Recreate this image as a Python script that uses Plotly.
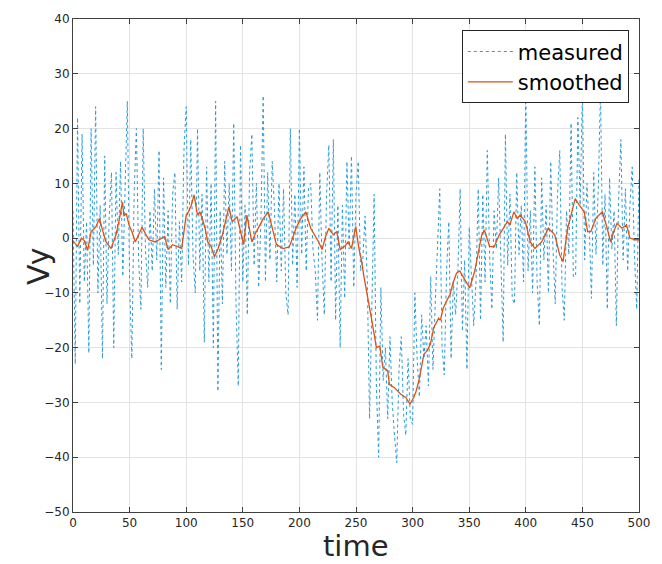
import plotly.graph_objects as go

# measured signal, sampled every 2 time units (0..500)
meas_t = list(range(0, 501, 2))
meas_v = [
    5, -23, 22, -12, 19,
    -8, 3, -21, 20, -5,
    24, -10, 6, -22, 15,
    -12, 4, 12, -20, 12,
    -3, 14, -7, 10, 25,
    -8, -22, 8, 20, -4,
    -13, 20, -2, -9, 5,
    -6, 9, -4, 16, -24,
    11, -9, 5, -12, 8,
    12, -13, 3, -8, 16,
    24, -5, 18, -3, -10,
    20, -6, 8, -19, 13,
    -8, 10, -20, 25, -28,
    5, -12, 14, -3, 10,
    -6, 21, -12, -27, 17,
    -8, 6, -14, 12, 19,
    -5, 10, -9, 3, 26,
    -8, 12, -4, 14, 5,
    -8, 10, -6, 9, -10,
    -14, 20, -5, 8, -9,
    20, -3, 13, -6, 9,
    10, -2, -6, -15, 12,
    -4, -14, 8, 17, -8,
    18, -15, 6, -20, 6,
    -11, 14, -2, 15, -9,
    8, 14, -6, -4, 4,
    -8, -33, -14, 8, -27,
    -40, -9, -26, -20, -33,
    -18, -30, -36, -41, -24,
    -18, -32, -36, -22, -33,
    -34, -10, -22, -29, -14,
    -22, -16, -27, -7, -24,
    -12, 0, 9, -20, -25,
    -6, 3, -22, -8, -14,
    -6, 9, -17, -4, -24,
    2, -6, -16, -8, 9,
    -15, 8, -8, 16, -3,
    -13, 5, -2, 11, -6,
    -19, 19, -5, 8, -11,
    -12, 12, -3, 6, -8,
    27, -6, 5, -10, 13,
    -8, -16, 11, -4, 6,
    -10, 14, -2, -12, 8,
    16, -9, -15, 5, -3,
    21, -7, -7, 22, 6,
    27, -4, 10, 2, -11,
    12, -3, 9, 27, -5,
    8, -13, 11, -2, 5,
    -16, 7, 18, -4, 9,
    -6, 6, 13, -3, -13,
    11,
]

smooth_t = [0, 4, 7.5, 10, 13, 16, 20, 23.4, 26, 29, 33.6, 38, 41, 43.7, 45, 47, 49.5, 52, 55, 58,
            61, 64, 67, 72.6, 77, 81, 84, 88, 93, 96, 100, 102, 104.5, 107, 110, 112, 114.6, 117, 119, 122,
            125, 128, 132, 135, 137.7, 140.6, 145, 148, 150.7, 153.6, 158, 161, 163.8, 168, 172.5, 175.3, 179.7, 185.5, 191, 194,
            197, 201, 205.7, 210, 214, 217, 220, 223, 226, 230, 233, 236, 240, 243, 246, 249.7, 252.6, 255, 257, 259,
            261, 263.6, 266, 268, 271, 273.7, 278, 279.5, 283.9, 287, 289.6, 294, 297.7, 301, 303, 305.6, 308, 310, 313, 315.7,
            318.6, 321, 323, 324.5, 327, 330, 333, 336, 338.8, 341.7, 346, 350.4, 354.8, 358, 361, 363.4, 368, 372, 376.5, 380.8,
            383.7, 386, 389.5, 392.4, 395, 399.6, 404, 408, 411, 414, 417, 419.9, 425.6, 430, 432.9, 435, 437, 440, 443.6, 447.3,
            451.6, 454.6, 457.5, 461.8, 464.7, 467.6, 471.9, 474.8, 477.7, 480.6, 485, 489, 492, 496.5, 500]
smooth_v = [-0.5, -1.5, 0, -0.5, -2.2, 1.2, 2, 3.6, 1.5, -0.6, -1.9, 0.6, 3.5, 6.6, 4, 4.5, 2.4, 1.2, -0.7, 0.8,
            2, 0.8, -0.3, -0.7, -0.2, 0.3, -2.1, -1.2, -1.6, -1.9, 4.2, 4.8, 6, 7.9, 4.2, 4.8, 3.3, 1.5, -0.7, -1.5,
            -3.4, -2, 0.6, 3, 5.7, 3, 3.9, 1.2, -1.2, 4.2, -0.7, 0.8, 1.8, 3.5, 4.8, 2.4, -1.2, -1.9, -1.6, 0,
            1.8, 3.5, 4.8, 1.8, 0.5, -0.7, -2.1, 0.2, 1.8, 0.6, 1.2, -2.1, -1.5, -0.7, -1.9, 2.1, -1.9, -4.3, -7, -9.1,
            -11.5, -14.6, -17.5, -20, -19.7, -23.6, -24.2, -26.7, -27.3, -28, -28.5, -29.1, -30.3, -29.1, -28, -26, -23.5, -21.2, -20.5, -19.4,
            -16.4, -15.5, -14.6, -15, -12.8, -11.5, -10.3, -8, -6.4, -6, -7.6, -9.1, -6.1, -2.5, 0.5, 1.5, -1.5, -1.6, 0.6, 2,
            3, 2.5, 4.8, 3.6, 4.2, 3, -0.7, -1.9, -1.2, -0.7, 0.5, 1.8, 0.6, -3.1, -4.3, -1.5, 1.8, 4.2, 7.2, 6,
            4.8, 1.2, 1.2, 3.6, 4.2, 4.8, 1.8, -0.7, 1.2, 2.7, 1.8, 2.4, 0, -0.3, -0.3]

x_ticks = [0, 50, 100, 150, 200, 250, 300, 350, 400, 450, 500]
y_ticks = [-50, -40, -30, -20, -10, 0, 10, 20, 30, 40]

n1 = min(len(meas_t), len(meas_v))
n2 = min(len(smooth_t), len(smooth_v))

fig = go.Figure()
fig.add_trace(go.Scatter(x=meas_t[:n1], y=meas_v[:n1], mode="lines", name="measured",
                         line=dict(color="#2a9ad8", width=1, dash="dot")))
fig.add_trace(go.Scatter(x=smooth_t[:n2], y=smooth_v[:n2], mode="lines", name="smoothed",
                         line=dict(color="#D95319", width=1.3)))

axis_common = dict(showline=True, linecolor="#404040", linewidth=1, mirror="ticks",
                   ticks="inside", ticklen=5, tickcolor="#404040",
                   showgrid=True, gridcolor="#e3e3e3", gridwidth=1, zeroline=False,
                   tickfont=dict(family="DejaVu Sans", size=12, color="#262626"))

fig.update_layout(
    width=662, height=564,
    margin=dict(l=73, r=13, t=16, b=52),
    paper_bgcolor="white", plot_bgcolor="white",
    font=dict(family="DejaVu Sans", color="#262626"),
    xaxis=dict(range=[0, 500], tickvals=x_ticks, **axis_common),
    yaxis=dict(range=[-50, 40], tickvals=y_ticks, **axis_common),
    legend=dict(x=0.982, y=0.977, xanchor="right", yanchor="top",
                bgcolor="white", bordercolor="#262626", borderwidth=1,
                font=dict(size=21, color="#000000"), tracegroupgap=0,
                itemwidth=45),
    showlegend=True,
    annotations=[
        dict(text="time", xref="paper", yref="paper", x=0.5, y=-0.069,
             xanchor="center", yanchor="middle", showarrow=False,
             font=dict(size=29, color="#262626")),
        dict(text="Vy", xref="paper", yref="paper", x=-0.061, y=0.498,
             xanchor="center", yanchor="middle", showarrow=False, textangle=-90,
             font=dict(size=30, color="#262626")),
    ],
)

fig.write_html("out.html")
